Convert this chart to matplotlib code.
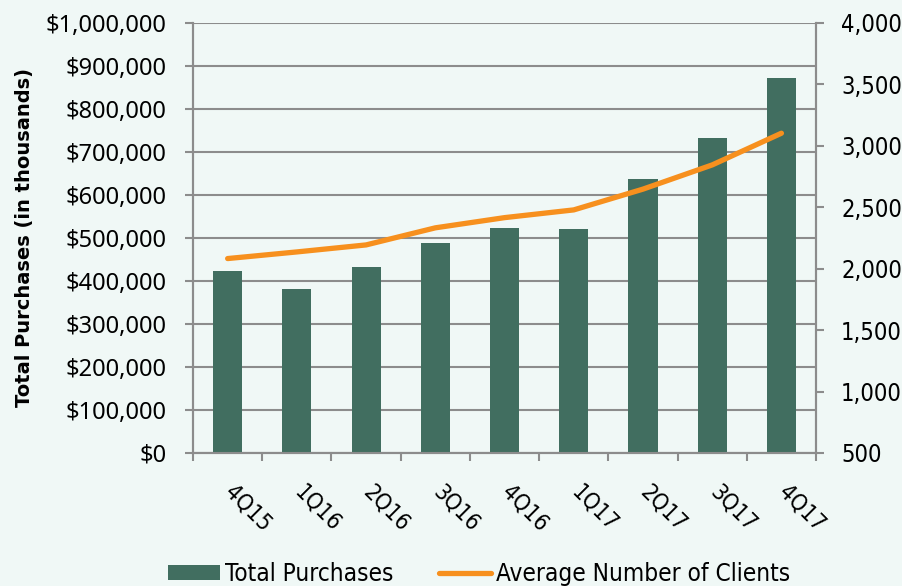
import matplotlib.pyplot as plt
import matplotlib.transforms as mtransforms
from matplotlib.ticker import FuncFormatter, MultipleLocator
import numpy as np

quarters = ["4Q15", "1Q16", "2Q16", "3Q16", "4Q16", "1Q17", "2Q17", "3Q17", "4Q17"]
total_purchases = [423000, 381000, 433000, 488000, 523000, 520000, 637000, 732000, 871000]
avg_clients = [2082, 2136, 2193, 2332, 2415, 2478, 2647, 2844, 3102]

bg = "#f0f8f6"
bar_color = "#416e60"
line_color = "#f7901e"
axis_color = "#8c8c8c"

narrow = {"family": "DejaVu Sans", "stretch": "condensed"}

fig = plt.figure(figsize=(9.02, 5.86), dpi=100, facecolor=bg)
ax = fig.add_axes([0.214, 0.227, 0.6907, 0.734])
ax.set_facecolor(bg)
ax2 = ax.twinx()

x = np.arange(len(quarters))
ax.bar(x, total_purchases, width=0.42, color=bar_color, zorder=3, label="Total Purchases")
ax2.plot(x, avg_clients, color=line_color, lw=3.8, solid_capstyle="round",
         label="Average Number of Clients")

ax.set_xlim(-0.5, len(quarters) - 0.5)
ax.set_ylim(0, 1000000)
ax.yaxis.set_major_locator(MultipleLocator(100000))
ax.yaxis.set_major_formatter(FuncFormatter(lambda v, p: "${:,.0f}".format(v)))
ax.grid(axis="y", color=axis_color, lw=1.5, zorder=0)
ax.set_axisbelow(True)

ax2.set_ylim(500, 4000)
ax2.yaxis.set_major_locator(MultipleLocator(500))
ax2.yaxis.set_major_formatter(FuncFormatter(lambda v, p: "{:,.0f}".format(v)))

# tick marks between categories, labels at the centres
ax.set_xticks(np.arange(len(quarters) + 1) - 0.5)
ax.set_xticklabels([])
ax.set_xticks(x, minor=True)
ax.set_xticklabels(quarters, minor=True, rotation=-45, ha="left", va="top",
                   fontsize=16.5, **narrow)
ax.tick_params(axis="x", which="minor", length=0, pad=20)
ax.tick_params(axis="x", which="major", length=6, width=1.5, color=axis_color)
shift = mtransforms.ScaledTranslation(-7 / 100, 0, fig.dpi_scale_trans)
for lab in ax.get_xticklabels(minor=True):
    lab.set_transform(lab.get_transform() + shift)

ax.tick_params(axis="y", length=6, width=1.5, color=axis_color, pad=13)
for lab in ax.get_yticklabels():
    lab.set_family("Noto Sans")
    lab.set_fontsize(17)
ax2.tick_params(axis="y", length=6, width=1.5, color=axis_color, pad=12)
for lab in ax2.get_yticklabels():
    lab.set_family("DejaVu Sans")
    lab.set_stretch("condensed")
    lab.set_fontsize(17)

for a in (ax, ax2):
    for s in a.spines.values():
        s.set_color(axis_color)
        s.set_linewidth(1.5)
    a.spines["top"].set_visible(False)

ax.set_ylabel("Total Purchases (in thousands)", fontsize=14, fontweight="bold",
              family="DejaVu Sans")
ax.yaxis.set_label_coords(-0.256, 0.5)

h1, l1 = ax.get_legend_handles_labels()
h2, l2 = ax2.get_legend_handles_labels()
fig.legend(h1 + h2, l1 + l2, loc="center", bbox_to_anchor=(0.531, 0.0205), ncol=2,
           frameon=False, prop={"family": "DejaVu Sans", "stretch": "condensed", "size": 17.5},
           handlelength=2.14, handleheight=0.6, columnspacing=1.9, handletextpad=0.2)

fig.savefig("out.png", dpi=100, facecolor=bg)
